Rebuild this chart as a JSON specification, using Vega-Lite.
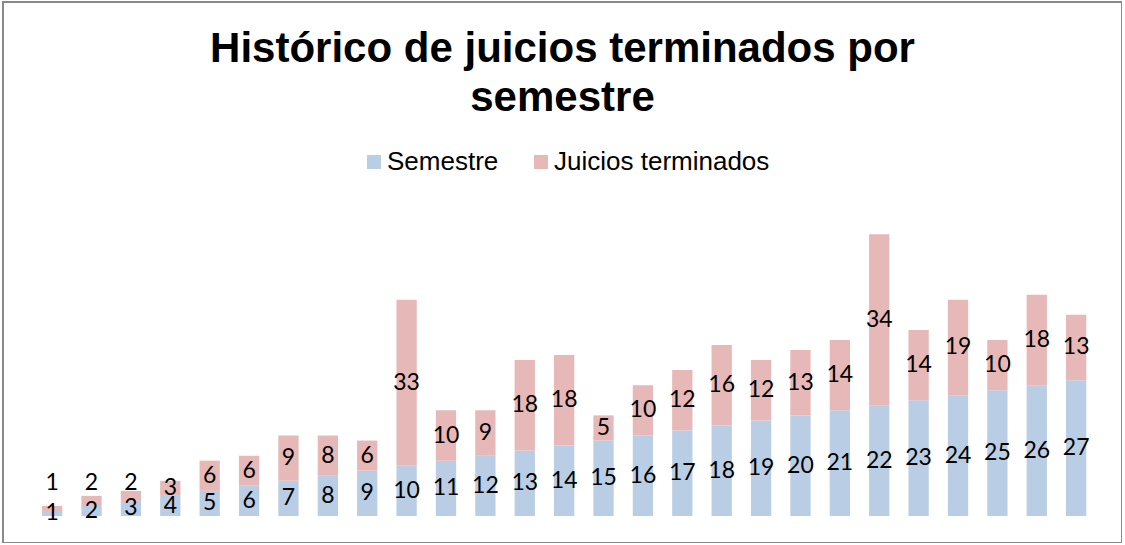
{
  "$schema": "https://vega.github.io/schema/vega-lite/v6.json",
  "autosize": {"type": "none"},
  "padding": {"left": 3, "top": 2, "right": 0, "bottom": 0},
  "width": 1119,
  "height": 541,
  "background": "white",
  "title": {
    "text": ["Histórico de juicios terminados por", "semestre"],
    "font": "Liberation Sans",
    "fontSize": 42,
    "fontWeight": "bold",
    "color": "#000000",
    "lineHeight": 49,
    "anchor": "middle",
    "frame": "group",
    "baseline": "top",
    "offset": -27,
    "dy": 91
  },
  "data": {
    "values": [
      {"semestre": 1, "Semestre": 1, "Juicios terminados": 1},
      {"semestre": 2, "Semestre": 2, "Juicios terminados": 2},
      {"semestre": 3, "Semestre": 3, "Juicios terminados": 2},
      {"semestre": 4, "Semestre": 4, "Juicios terminados": 3},
      {"semestre": 5, "Semestre": 5, "Juicios terminados": 6},
      {"semestre": 6, "Semestre": 6, "Juicios terminados": 6},
      {"semestre": 7, "Semestre": 7, "Juicios terminados": 9},
      {"semestre": 8, "Semestre": 8, "Juicios terminados": 8},
      {"semestre": 9, "Semestre": 9, "Juicios terminados": 6},
      {"semestre": 10, "Semestre": 10, "Juicios terminados": 33},
      {"semestre": 11, "Semestre": 11, "Juicios terminados": 10},
      {"semestre": 12, "Semestre": 12, "Juicios terminados": 9},
      {"semestre": 13, "Semestre": 13, "Juicios terminados": 18},
      {"semestre": 14, "Semestre": 14, "Juicios terminados": 18},
      {"semestre": 15, "Semestre": 15, "Juicios terminados": 5},
      {"semestre": 16, "Semestre": 16, "Juicios terminados": 10},
      {"semestre": 17, "Semestre": 17, "Juicios terminados": 12},
      {"semestre": 18, "Semestre": 18, "Juicios terminados": 16},
      {"semestre": 19, "Semestre": 19, "Juicios terminados": 12},
      {"semestre": 20, "Semestre": 20, "Juicios terminados": 13},
      {"semestre": 21, "Semestre": 21, "Juicios terminados": 14},
      {"semestre": 22, "Semestre": 22, "Juicios terminados": 34},
      {"semestre": 23, "Semestre": 23, "Juicios terminados": 14},
      {"semestre": 24, "Semestre": 24, "Juicios terminados": 19},
      {"semestre": 25, "Semestre": 25, "Juicios terminados": 10},
      {"semestre": 26, "Semestre": 26, "Juicios terminados": 18},
      {"semestre": 27, "Semestre": 27, "Juicios terminados": 13}
    ]
  },
  "transform": [
    {"fold": ["Semestre", "Juicios terminados"], "as": ["serie", "valor"]},
    {"stack": "valor", "groupby": ["semestre"], "sort": [{"field": "serie", "order": "descending"}], "as": ["v0", "v1"]},
    {"calculate": "(datum.v0 + datum.v1) / 2", "as": "vmid"},
    {"calculate": "datum.serie == 'Juicios terminados' && datum.valor < 3 ? max(datum.vmid, 6.6) : datum.vmid", "as": "vlabel"}
  ],
  "encoding": {
    "x": {
      "field": "semestre",
      "type": "ordinal",
      "sort": "ascending",
      "axis": null,
      "scale": {"range": [39, 1083.3], "paddingInner": 0.485, "paddingOuter": 0}
    }
  },
  "layer": [
    {
      "mark": {"type": "bar"},
      "encoding": {
        "y": {"field": "v1", "type": "quantitative", "axis": null, "scale": {"domain": [0, 56], "range": [514, 232.3], "nice": false, "zero": false}},
        "y2": {"field": "v0"},
        "color": {
          "field": "serie",
          "type": "nominal",
          "sort": ["Semestre", "Juicios terminados"],
          "scale": {"domain": ["Semestre", "Juicios terminados"], "range": ["#B9CDE5", "#E6B9B8"]},
          "legend": {
            "title": null,
            "orient": "none",
            "legendX": 358,
            "legendY": 147,
            "direction": "horizontal",
            "symbolType": "square",
            "symbolSize": 196,
            "symbolStrokeWidth": 0,
            "labelFont": "Liberation Sans",
            "labelFontSize": 26,
            "labelColor": "#000000",
            "labelOffset": 0,
            "columnPadding": 29,
            "labelLimit": 400
          }
        }
      }
    },
    {
      "mark": {"type": "text", "font": "Lato", "fontSize": 23, "color": "#000000", "baseline": "middle", "align": "center"},
      "encoding": {
        "y": {"field": "vlabel", "type": "quantitative"},
        "text": {"field": "valor", "type": "quantitative"}
      }
    }
  ],
  "config": {
    "view": {"stroke": "#8a8a8a", "strokeWidth": 2}
  }
}
